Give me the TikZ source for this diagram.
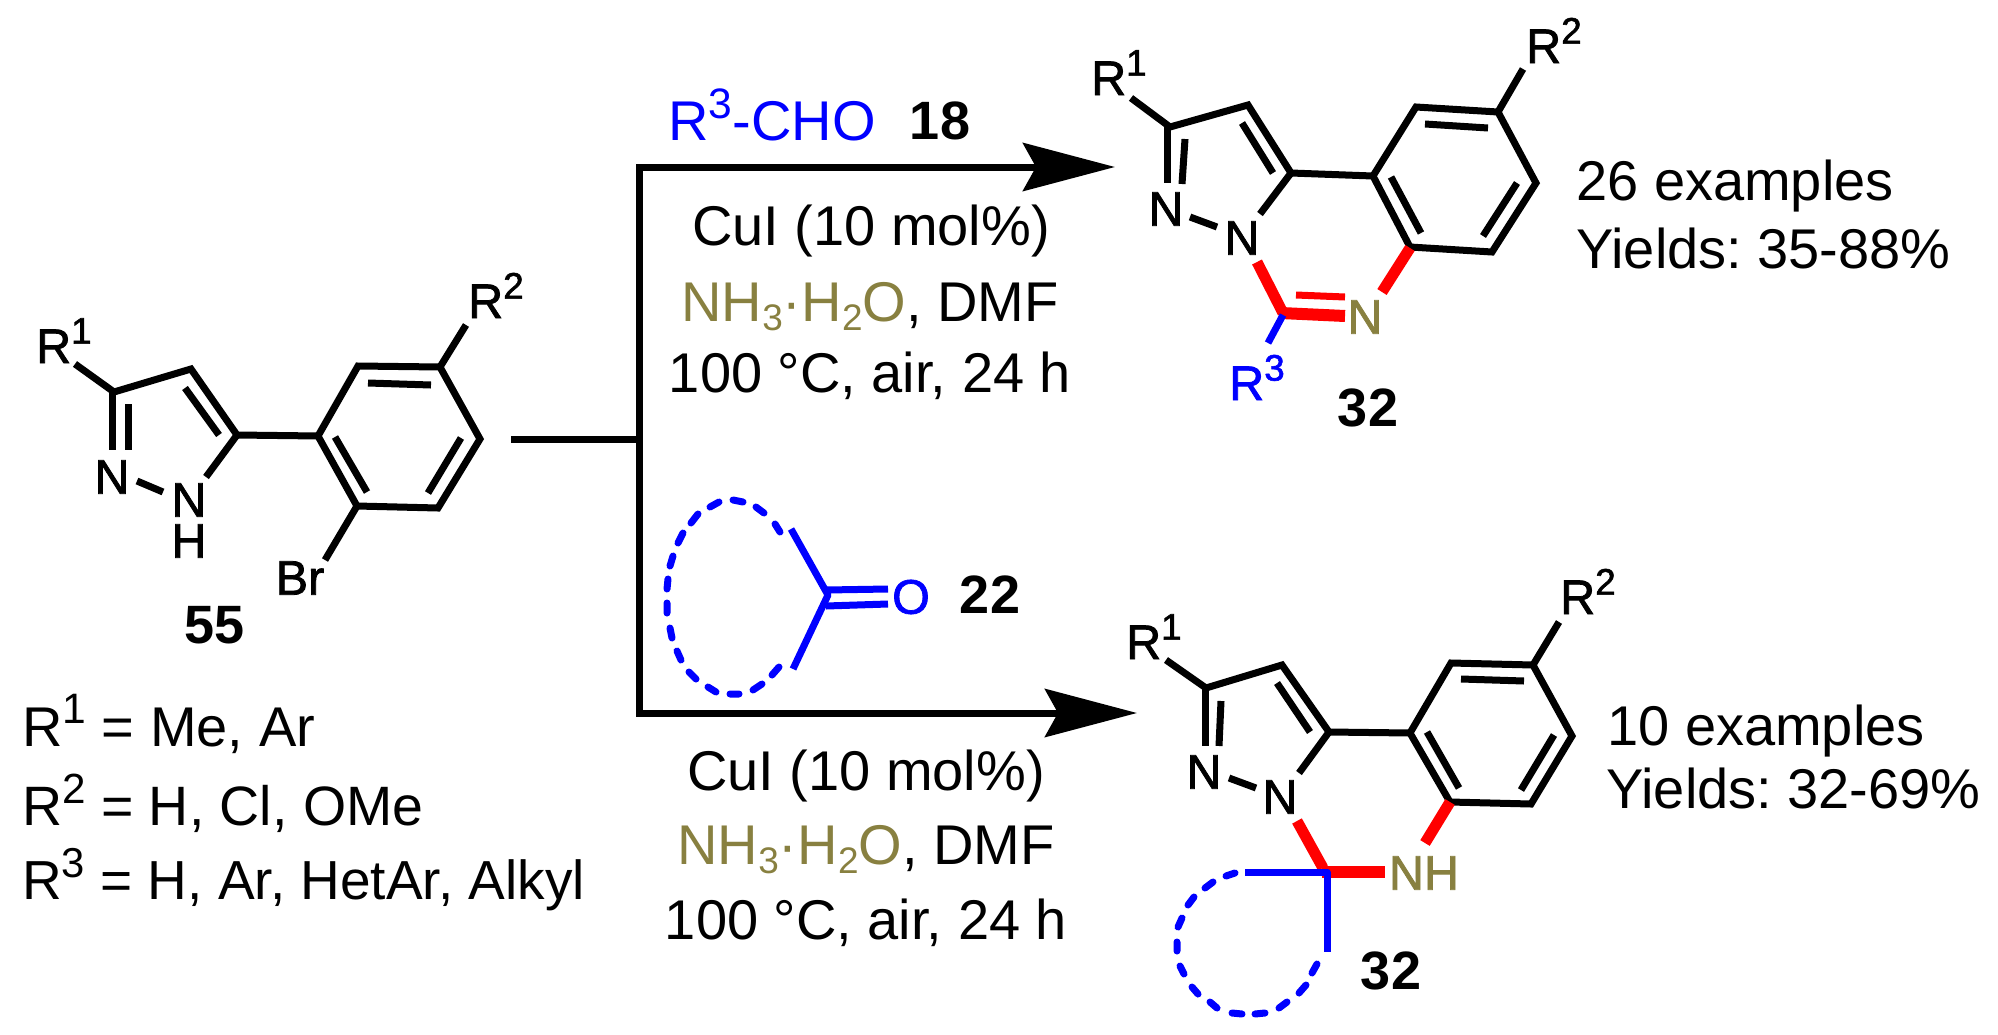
\documentclass[tikz,border=0pt]{standalone}
\usepackage{fontspec}
\usepackage{graphicx}
\setmainfont{Liberation Sans}
\newfontfamily\heavy[FakeBold=1.6]{Liberation Sans}
\usetikzlibrary{arrows.meta}
\definecolor{olivec}{HTML}{888040}
\newcommand{\upsc}[1]{\raisebox{.40em}{\scalebox{.76}{#1}}}
\newcommand{\dnsc}[1]{\raisebox{-.16em}{\scalebox{.66}{#1}}}
\newcommand{\bigtxt}{\fontsize{56}{60}\selectfont\frenchspacing}
\tikzset{
  x=1pt,y=-1pt,
  bond/.style={line width=7pt,draw=black,line cap=butt,line join=miter},
  redbond/.style={line width=11pt,draw=red,line cap=butt},
  blubond/.style={line width=7pt,draw=blue,line cap=butt,line join=round},
  ringdash/.style={line width=7pt,draw=blue,line cap=round},
  rxn/.style={line width=7pt,draw=black,line join=miter,-{Stealth[length=92pt,width=48pt,inset=13pt]}},
  atom/.style={inner sep=0pt,font=\fontsize{48.5}{50}\selectfont\heavy},
  atomb/.style={atom,anchor=base west},
  txt/.style={inner sep=0pt,font=\bigtxt,anchor=center},
  txtl/.style={inner sep=0pt,font=\bigtxt,anchor=west},
  lab/.style={inner sep=0pt,font=\fontsize{54}{58}\selectfont\bfseries,anchor=center},
}
\begin{document}
\begin{tikzpicture}
\useasboundingbox (0,0) rectangle (1998,1034);
% reaction scheme lines
\coordinate (stub) at (511,439);
\coordinate (jn) at (639,439);
\coordinate (topc) at (639,167);
\coordinate (botc) at (639,713);
\coordinate (toptip) at (1115,167);
\coordinate (bottip) at (1137,713);
\draw[rxn] (jn) -- (topc) -- (toptip);
\draw[rxn] (jn) -- (botc) -- (bottip);
\draw[line width=7pt] (stub) -- (jn);

% substrate 55
\draw[bond] (75,364) -- (114,392) -- (191,369) -- (237,435) -- (319,436);
\draw[bond] (237,435) -- (206,477);
\draw[bond] (112,392) -- (112,450);
\draw[bond] (128,404) -- (128,450);
\draw[bond] (185,388) -- (219,435);
\draw[bond] (137,481) -- (163,492);
\draw[bond] (318,436) -- (358,366) -- (440,367) -- (480,439) -- (438,508) -- (357,506) -- cycle;
\draw[bond] (368,383) -- (431,385);
\draw[bond] (461,438) -- (428,493);
\draw[bond] (335,437) -- (367,492);
\draw[bond] (357,506) -- (325,560);
\draw[bond] (440,367) -- (466,325);
\node[atomb] (r1a) at (36,363) {R\upsc{1}};
\node[atomb] (r2a) at (468,318) {R\upsc{2}};
\node[atom] (n1a) at (112,477) {N};
\node[atom] (n2a) at (189,500) {N};
\node[atom] (ha) at (189,541) {H};
\node[atom] (bra) at (300,578) {Br};
\node[lab] (l55) at (215,625) {55};

% legend
\node[txtl] (leg1) at (22,724) {R\upsc{1} = Me, Ar};
\node[txtl,font=\fontsize{55.5}{60}\selectfont\frenchspacing] (leg2) at (22,803) {R\upsc{2} = H, Cl, OMe};
\node[txtl,font=\fontsize{55}{60}\selectfont\frenchspacing] (leg3) at (22,880) {R\upsc{3} = H, Ar, HetAr, Alkyl};

% top conditions
\node[txt,text=blue] (ald) at (772,115) {R\upsc{3}-CHO};
\node[lab] (l18) at (940,121) {18};
\node[txt] (c1a) at (871,231) {CuI (10 mol\%)};
\node[txt] (c1b) at (870,307) {\textcolor{olivec}{NH\dnsc{3}·H\dnsc{2}O}, DMF};
\node[txt] (c1c) at (870,376) {100 °C, air, 24 h};

% ketone 22
\draw[blubond] (791,529) -- (828,595) -- (793,669);
\draw[blubond] (826,590) -- (888,589);
\draw[blubond] (826,606) -- (888,604);
\draw[ringdash]
 (775,524)--(780,532) (756,507)--(764,513) (733,500)--(743,502) (710,507)--(719,502)
 (691,523)--(698,514) (678,543)--(683,533) (670,566)--(673,556) (667,589)--(668,579)
 (667,613)--(667,603) (672,638)--(670,628) (681,660)--(677,651) (696,679)--(689,672)
 (716,692)--(708,687) (739,694)--(730,694) (762,684)--(753,690) (779,667)--(772,675);
\node[atom,text=blue] (oket) at (911,597) {O};
\node[lab] (l22) at (990,595) {22};

% lower conditions
\node[txt] (c2a) at (866,776) {CuI (10 mol\%)};
\node[txt] (c2b) at (866,850) {\textcolor{olivec}{NH\dnsc{3}·H\dnsc{2}O}, DMF};
\node[txt] (c2c) at (866,923) {100 °C, air, 24 h};

% product top
\draw[bond] (1131,98) -- (1170,127) -- (1248,105) -- (1291,173) -- (1373,176);
\draw[bond] (1291,173) -- (1260,214);
\draw[bond] (1167,127) -- (1167,183);
\draw[bond] (1185,139) -- (1182,184);
\draw[bond] (1242,123) -- (1273,173);
\draw[bond] (1190,217) -- (1217,227);
\draw[bond] (1373,176) -- (1416,107) -- (1498,112) -- (1536,183) -- (1492,252) -- (1410,247) -- cycle;
\draw[bond] (1425,124) -- (1488,128);
\draw[bond] (1517,183) -- (1483,236);
\draw[bond] (1391,177) -- (1421,233);
\draw[bond] (1498,112) -- (1523,69);
\draw[redbond] (1257,262) -- (1283,313);
\draw[redbond,line width=12pt] (1281,313) -- (1345,316);
\draw[redbond,line width=7pt] (1296,295) -- (1345,297);
\draw[redbond] (1410,248) -- (1382,292);
\draw[blubond] (1283,315) -- (1268,343);
\node[atomb] (r1b) at (1091,95) {R\upsc{1}};
\node[atomb] (r2b) at (1526,63) {R\upsc{2}};
\node[atomb,text=blue] (r3b) at (1229,400) {R\upsc{3}};
\node[atom] (n1b) at (1166,209) {N};
\node[atom] (n2b) at (1242,238) {N};
\node[atom,text=olivec] (n3b) at (1365,317) {N};
\node[lab] (l32a) at (1368,408) {32};
\node[txtl] (ex1) at (1576,186) {26 examples};
\node[txtl] (yl1) at (1576,248) {Yields: 35-88\%};

% product bottom
\draw[bond] (1166,660) -- (1206,688) -- (1282,665) -- (1329,732) -- (1410,733);
\draw[bond] (1329,732) -- (1299,773);
\draw[bond] (1205,688) -- (1205,746);
\draw[bond] (1221,701) -- (1219,746);
\draw[bond] (1277,683) -- (1310,732);
\draw[bond] (1229,778) -- (1256,788);
\draw[bond] (1410,733) -- (1451,663) -- (1533,665) -- (1572,736) -- (1531,804) -- (1450,802) -- cycle;
\draw[bond] (1461,679) -- (1524,681);
\draw[bond] (1554,735) -- (1521,790);
\draw[bond] (1427,732) -- (1459,788);
\draw[bond] (1533,665) -- (1559,622);
\draw[redbond] (1297,821) -- (1323,868);
\draw[redbond,line width=12pt] (1322,872) -- (1385,872);
\draw[redbond] (1450,802) -- (1425,843);
\draw[blubond] (1245,872) -- (1327,872) -- (1327,952);
\draw[ringdash]
 (1226,876)--(1235,873) (1205,888)--(1213,882) (1188,905)--(1194,897) (1178,927)--(1182,918)
 (1177,951)--(1177,942) (1180,966)--(1184,974) (1192,987)--(1198,994) (1210,1002)--(1217,1008)
 (1232,1013)--(1242,1014) (1255,1014)--(1265,1013) (1279,1008)--(1287,1002) (1299,993)--(1306,985)
 (1312,973)--(1317,964);
\node[atomb] (r1c) at (1126,659) {R\upsc{1}};
\node[atomb] (r2c) at (1560,614) {R\upsc{2}};
\node[atom] (n1c) at (1204,772) {N};
\node[atom] (n2c) at (1280,797) {N};
\node[atom,text=olivec] (nhc) at (1424,873) {NH};
\node[lab] (l32b) at (1391,971) {32};
\node[txtl] (ex2) at (1607,731) {10 examples};
\node[txtl] (yl2) at (1606,788) {Yields: 32-69\%};
\end{tikzpicture}
\end{document}
